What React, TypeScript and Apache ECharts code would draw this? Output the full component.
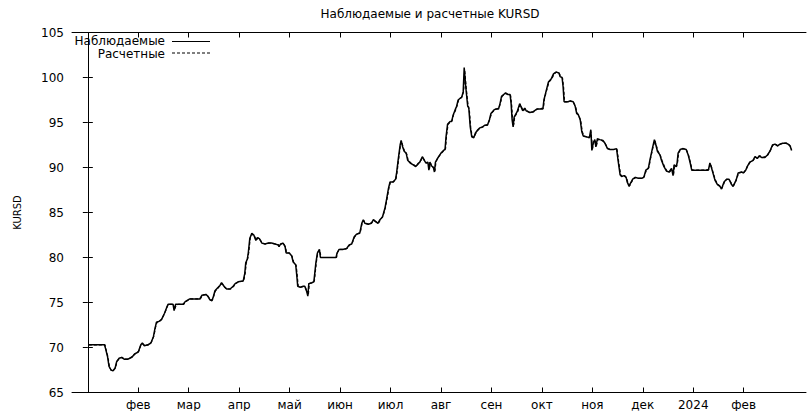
import React, { useEffect, useRef } from "react";
import * as echarts from "echarts";

// x values are months counted from 1 Jan 2023 (1 = February, 12 = January 2024)
const monthLabels = ["янв", "фев", "мар", "апр", "май", "июн", "июл", "авг", "сен", "окт", "ноя", "дек", "2024", "фев"];
const tickMonths = [1, 2, 3, 4, 5, 6, 7, 8, 9, 10, 11, 12, 13];
const yTicks = [65, 105, 5];

const titleText = "Наблюдаемые и расчетные KURSD";
const yName = "KURSD";
const seriesNames = ["Наблюдаемые", "Расчетные"];

const observed: [number, number][] = [
  [0.02, 70.3], [0.33, 70.3], [0.35, 69.9], [0.39, 69.0], [0.42, 67.9], [0.46, 67.5], [0.50, 67.4], [0.54, 67.7], [0.57, 68.4], [0.62, 68.8],
  [0.67, 68.9], [0.72, 68.7], [0.79, 68.7], [0.87, 68.9], [0.93, 69.3], [1.00, 69.5], [1.05, 70.3], [1.08, 70.5], [1.12, 70.2], [1.19, 70.3],
  [1.25, 70.5], [1.30, 71.2], [1.33, 72.1], [1.36, 72.8], [1.41, 72.9], [1.46, 73.1], [1.52, 73.8], [1.56, 74.4], [1.59, 74.8], [1.65, 74.8],
  [1.69, 74.8], [1.71, 74.1], [1.74, 74.8], [1.79, 74.8], [1.89, 74.8], [1.93, 75.1], [2.02, 75.4], [2.22, 75.4], [2.26, 75.8], [2.34, 75.9],
  [2.38, 75.7], [2.42, 75.3], [2.46, 75.2], [2.49, 75.7], [2.52, 76.3], [2.57, 76.6], [2.62, 76.9], [2.65, 77.2], [2.70, 76.8], [2.75, 76.5],
  [2.82, 76.5], [2.88, 76.8], [2.92, 77.1], [2.98, 77.3], [3.08, 77.4], [3.11, 78.2], [3.13, 79.4], [3.16, 79.8], [3.18, 80.5], [3.21, 82.1],
  [3.25, 82.7], [3.29, 82.5], [3.33, 81.9], [3.36, 82.2], [3.40, 82.1], [3.45, 81.6], [3.51, 81.5], [3.58, 81.6], [3.64, 81.6], [3.71, 81.5],
  [3.77, 81.4], [3.79, 81.2], [3.82, 81.5], [3.87, 81.6], [3.91, 81.2], [3.93, 80.5], [3.99, 80.5], [4.04, 80.2], [4.07, 79.5], [4.12, 79.2],
  [4.14, 78.1], [4.16, 76.8], [4.21, 76.7], [4.27, 76.8], [4.30, 76.8], [4.34, 76.2], [4.36, 75.7], [4.38, 77.1], [4.44, 77.2], [4.48, 77.3],
  [4.52, 79.4], [4.55, 80.5], [4.59, 80.9], [4.61, 80.0], [4.73, 80.0], [4.92, 80.0], [4.94, 80.5], [4.98, 80.9], [5.05, 80.9], [5.13, 81.0],
  [5.18, 81.4], [5.23, 81.5], [5.28, 82.3], [5.33, 82.6], [5.39, 82.7], [5.43, 83.8], [5.46, 84.2], [5.49, 83.8], [5.56, 83.7], [5.62, 83.8],
  [5.66, 84.2], [5.75, 83.8], [5.79, 84.2], [5.84, 84.5], [5.89, 85.5], [5.92, 86.4], [5.96, 87.7], [5.99, 88.4], [6.05, 88.4], [6.10, 88.7],
  [6.12, 89.4], [6.15, 90.8], [6.19, 92.5], [6.21, 93.0], [6.24, 92.3], [6.27, 91.8], [6.31, 91.6], [6.34, 90.8], [6.39, 90.5], [6.45, 90.3],
  [6.50, 90.1], [6.54, 90.4], [6.58, 90.6], [6.63, 91.2], [6.67, 90.8], [6.70, 90.5], [6.74, 90.6], [6.76, 89.7], [6.78, 90.6], [6.81, 90.2],
  [6.85, 90.0], [6.87, 89.5], [6.89, 90.6], [6.93, 91.0], [7.00, 91.6], [7.05, 91.9], [7.08, 92.0], [7.10, 93.4], [7.13, 94.8], [7.18, 95.1],
  [7.21, 95.1], [7.24, 95.8], [7.28, 96.4], [7.31, 96.8], [7.34, 97.5], [7.38, 97.7], [7.41, 97.8], [7.44, 98.4], [7.46, 101.1], [7.49, 99.0],
  [7.53, 96.8], [7.55, 96.7], [7.58, 94.5], [7.61, 93.4], [7.65, 93.3], [7.68, 93.8], [7.73, 94.2], [7.77, 94.4], [7.82, 94.5], [7.87, 94.7],
  [7.92, 94.7], [7.96, 95.3], [7.99, 96.0], [8.05, 96.4], [8.09, 96.5], [8.14, 96.5], [8.17, 97.1], [8.20, 97.9], [8.26, 98.2], [8.28, 98.3],
  [8.33, 98.1], [8.37, 98.1], [8.39, 97.1], [8.41, 95.3], [8.43, 94.5], [8.45, 95.6], [8.51, 96.2], [8.56, 97.1], [8.62, 96.3], [8.66, 96.6],
  [8.69, 96.3], [8.76, 96.1], [8.83, 96.2], [8.90, 96.5], [9.02, 96.5], [9.04, 97.5], [9.08, 98.4], [9.13, 99.5], [9.19, 99.9], [9.23, 100.4],
  [9.28, 100.6], [9.34, 100.5], [9.36, 100.1], [9.40, 100.0], [9.42, 99.0], [9.44, 97.3], [9.52, 97.3], [9.56, 97.4], [9.62, 97.3], [9.66, 96.8],
  [9.69, 96.0], [9.72, 95.9], [9.76, 95.3], [9.79, 94.0], [9.82, 93.5], [9.89, 93.4], [9.94, 93.3], [9.97, 94.2], [9.98, 93.1], [9.99, 91.9],
  [10.02, 92.8], [10.05, 93.1], [10.07, 92.3], [10.10, 93.2], [10.15, 93.1], [10.21, 93.0], [10.25, 92.7], [10.30, 92.1], [10.35, 92.0], [10.42, 92.0],
  [10.48, 92.1], [10.51, 90.8], [10.55, 89.2], [10.58, 89.0], [10.63, 89.1], [10.67, 88.9], [10.69, 88.4], [10.73, 87.9], [10.76, 88.3], [10.80, 88.7],
  [10.85, 88.9], [10.91, 88.8], [10.98, 88.8], [11.02, 88.9], [11.06, 89.7], [11.11, 89.9], [11.14, 90.8], [11.19, 92.1], [11.23, 93.1], [11.26, 92.5],
  [11.29, 91.8], [11.34, 91.4], [11.37, 90.8], [11.42, 90.1], [11.47, 89.6], [11.52, 89.5], [11.57, 89.9], [11.60, 89.1], [11.62, 90.3], [11.66, 90.1],
  [11.68, 90.5], [11.70, 91.6], [11.74, 92.0], [11.79, 92.1], [11.86, 92.0], [11.90, 91.4], [11.94, 90.5], [11.97, 89.7], [12.07, 89.7], [12.20, 89.7],
  [12.30, 89.7], [12.33, 90.5], [12.35, 90.2], [12.39, 89.4], [12.43, 88.6], [12.48, 88.1], [12.53, 87.9], [12.56, 87.6], [12.61, 88.4], [12.66, 88.7],
  [12.71, 88.7], [12.76, 88.1], [12.79, 87.9], [12.85, 88.6], [12.89, 89.4], [12.96, 89.5], [12.99, 89.4], [13.04, 89.7], [13.07, 90.1], [13.12, 90.6],
  [13.19, 90.8], [13.22, 91.2], [13.27, 91.0], [13.31, 91.3], [13.36, 91.1], [13.42, 91.1], [13.47, 91.4], [13.52, 91.8], [13.57, 92.5], [13.62, 92.6],
  [13.67, 92.4], [13.72, 92.6], [13.77, 92.7], [13.84, 92.7], [13.88, 92.6], [13.92, 92.4], [13.95, 91.9],
];

const calculated: [number, number][] = [
  [0.02, 70.3], [0.34, 70.3], [0.36, 69.8], [0.40, 68.9], [0.43, 67.8], [0.47, 67.4], [0.51, 67.5], [0.55, 67.8], [0.58, 68.5], [0.63, 68.8],
  [0.68, 68.9], [0.73, 68.7], [0.80, 68.7], [0.88, 69.0], [0.94, 69.3], [1.01, 69.6], [1.06, 70.4], [1.09, 70.4], [1.13, 70.2], [1.20, 70.3],
  [1.26, 70.6], [1.31, 71.3], [1.34, 72.2], [1.37, 72.8], [1.42, 72.9], [1.47, 73.2], [1.53, 73.9], [1.57, 74.5], [1.60, 74.8], [1.66, 74.8],
  [1.70, 74.7], [1.72, 74.2], [1.75, 74.7], [1.80, 74.8], [1.90, 74.8], [1.94, 75.1], [2.03, 75.4], [2.23, 75.4], [2.27, 75.8], [2.35, 75.9],
  [2.39, 75.6], [2.43, 75.3], [2.47, 75.3], [2.50, 75.8], [2.53, 76.3], [2.58, 76.6], [2.63, 77.0], [2.66, 77.1], [2.71, 76.7], [2.76, 76.5],
  [2.83, 76.5], [2.89, 76.8], [2.93, 77.1], [2.99, 77.3], [3.09, 77.4], [3.12, 78.3], [3.14, 79.4], [3.17, 79.9], [3.19, 80.6], [3.22, 82.2],
  [3.26, 82.6], [3.30, 82.4], [3.34, 81.9], [3.37, 82.2], [3.41, 82.0], [3.46, 81.6], [3.52, 81.5], [3.59, 81.6], [3.65, 81.6], [3.72, 81.5],
  [3.78, 81.4], [3.80, 81.2], [3.83, 81.5], [3.88, 81.6], [3.92, 81.1], [3.94, 80.5], [4.00, 80.5], [4.05, 80.1], [4.08, 79.5], [4.13, 79.1],
  [4.15, 78.0], [4.17, 76.8], [4.22, 76.7], [4.28, 76.8], [4.31, 76.7], [4.35, 76.1], [4.37, 75.8], [4.39, 77.1], [4.45, 77.2], [4.49, 77.4],
  [4.53, 79.5], [4.56, 80.6], [4.60, 80.8], [4.62, 80.0], [4.74, 80.0], [4.93, 80.0], [4.95, 80.6], [4.99, 80.9], [5.06, 80.9], [5.14, 81.0],
  [5.19, 81.4], [5.24, 81.6], [5.29, 82.3], [5.34, 82.6], [5.40, 82.8], [5.44, 83.9], [5.47, 84.1], [5.50, 83.8], [5.57, 83.7], [5.63, 83.9],
  [5.67, 84.1], [5.76, 83.8], [5.80, 84.2], [5.85, 84.6], [5.90, 85.6], [5.93, 86.5], [5.97, 87.8], [6.00, 88.4], [6.06, 88.4], [6.11, 88.8],
  [6.13, 89.5], [6.16, 90.9], [6.20, 92.6], [6.22, 92.9], [6.25, 92.2], [6.28, 91.8], [6.32, 91.5], [6.35, 90.8], [6.40, 90.5], [6.46, 90.3],
  [6.51, 90.1], [6.55, 90.4], [6.59, 90.7], [6.64, 91.1], [6.68, 90.7], [6.71, 90.5], [6.75, 90.5], [6.77, 89.8], [6.79, 90.5], [6.82, 90.2],
  [6.86, 89.9], [6.88, 89.6], [6.90, 90.6], [6.94, 91.1], [7.01, 91.6], [7.06, 91.9], [7.09, 92.1], [7.11, 93.5], [7.14, 94.8], [7.19, 95.1],
  [7.22, 95.2], [7.25, 95.9], [7.29, 96.4], [7.32, 96.9], [7.35, 97.5], [7.39, 97.7], [7.42, 97.9], [7.45, 98.5], [7.47, 100.8], [7.50, 98.8],
  [7.54, 96.7], [7.56, 96.5], [7.59, 94.4], [7.62, 93.4], [7.66, 93.4], [7.69, 93.8], [7.74, 94.2], [7.78, 94.4], [7.83, 94.5], [7.88, 94.7],
  [7.93, 94.8], [7.97, 95.4], [8.00, 96.0], [8.06, 96.4], [8.10, 96.5], [8.15, 96.6], [8.18, 97.2], [8.21, 97.9], [8.27, 98.2], [8.29, 98.2],
  [8.34, 98.1], [8.38, 98.0], [8.40, 97.0], [8.42, 95.3], [8.44, 94.7], [8.46, 95.6], [8.52, 96.2], [8.57, 97.0], [8.63, 96.3], [8.67, 96.5],
  [8.70, 96.3], [8.77, 96.1], [8.84, 96.2], [8.91, 96.5], [9.03, 96.6], [9.05, 97.6], [9.09, 98.5], [9.14, 99.5], [9.20, 99.9], [9.24, 100.4],
  [9.29, 100.6], [9.35, 100.4], [9.37, 100.1], [9.41, 99.9], [9.43, 98.9], [9.45, 97.3], [9.53, 97.3], [9.57, 97.4], [9.63, 97.2], [9.67, 96.7],
  [9.70, 96.0], [9.73, 95.8], [9.77, 95.2], [9.80, 94.0], [9.83, 93.5], [9.90, 93.4], [9.95, 93.4], [9.97, 94.0], [9.99, 93.0], [10.00, 92.0],
  [10.03, 92.8], [10.06, 93.0], [10.08, 92.4], [10.11, 93.1], [10.16, 93.1], [10.22, 92.9], [10.26, 92.6], [10.31, 92.1], [10.36, 92.0], [10.43, 92.0],
  [10.49, 92.0], [10.52, 90.7], [10.56, 89.2], [10.59, 89.0], [10.64, 89.1], [10.68, 88.8], [10.70, 88.4], [10.74, 88.0], [10.77, 88.3], [10.81, 88.7],
  [10.86, 88.9], [10.92, 88.8], [10.99, 88.8], [11.03, 89.0], [11.07, 89.7], [11.12, 90.0], [11.15, 90.9], [11.20, 92.2], [11.24, 93.0], [11.27, 92.4],
  [11.30, 91.8], [11.35, 91.3], [11.38, 90.8], [11.43, 90.1], [11.48, 89.6], [11.53, 89.5], [11.58, 89.8], [11.61, 89.2], [11.63, 90.2], [11.67, 90.1],
  [11.69, 90.6], [11.71, 91.6], [11.75, 92.0], [11.80, 92.1], [11.87, 91.9], [11.91, 91.3], [11.95, 90.4], [11.98, 89.7], [12.08, 89.7], [12.21, 89.7],
  [12.31, 89.8], [12.34, 90.4], [12.36, 90.1], [12.40, 89.3], [12.44, 88.6], [12.49, 88.1], [12.54, 87.9], [12.57, 87.7], [12.62, 88.4], [12.67, 88.7],
  [12.72, 88.6], [12.77, 88.1], [12.80, 88.0], [12.86, 88.7], [12.90, 89.4], [12.97, 89.5], [13.00, 89.4], [13.05, 89.8], [13.08, 90.2], [13.13, 90.6],
  [13.20, 90.9], [13.23, 91.2], [13.28, 91.0], [13.32, 91.3], [13.37, 91.1], [13.43, 91.2], [13.48, 91.4], [13.53, 91.9], [13.58, 92.5], [13.63, 92.6],
  [13.68, 92.4], [13.73, 92.6], [13.78, 92.7], [13.85, 92.7], [13.89, 92.6], [13.93, 92.3], [13.95, 92.0],
];

const X_MIN = -0.314;
const X_MAX = 14.235;
const FONT = "'DejaVu Sans', sans-serif";

export default function App() {
  const ref = useRef<HTMLDivElement>(null);

  useEffect(() => {
    if (!ref.current) return;
    const chart = echarts.init(ref.current, null, { renderer: "svg" });
    const tickStyle = { inside: true, length: 5, lineStyle: { color: "#000", width: 1 } };
    const axisLine = { show: true, lineStyle: { color: "#000", width: 1 } };
    const fmt = (v: number) => monthLabels[Math.round(v)] ?? "";

    chart.setOption({
      animation: false,
      backgroundColor: "#fff",
      textStyle: { fontFamily: FONT },
      grid: { left: 72, right: 1, top: 32.5, bottom: 18.5, containLabel: false },
      xAxis: [
        {
          type: "value",
          position: "bottom",
          min: X_MIN,
          max: X_MAX,
          axisLine,
          axisTick: { ...tickStyle, customValues: tickMonths },
          axisLabel: { customValues: tickMonths, formatter: fmt, color: "#000", fontSize: 12, fontFamily: FONT, margin: 6 },
          splitLine: { show: false },
        },
        {
          type: "value",
          position: "top",
          min: X_MIN,
          max: X_MAX,
          axisLine,
          axisTick: { ...tickStyle, customValues: tickMonths },
          axisLabel: { show: false },
          splitLine: { show: false },
        },
      ],
      yAxis: [
        {
          type: "value",
          position: "left",
          min: yTicks[0],
          max: yTicks[1],
          interval: yTicks[2],
          axisLine,
          axisTick: tickStyle,
          axisLabel: { color: "#000", fontSize: 12, fontFamily: FONT, margin: 8 },
          splitLine: { show: false },
          name: yName,
          nameLocation: "middle",
          nameRotate: 90,
          nameGap: 50,
          nameTextStyle: { color: "#000", fontSize: 10, fontFamily: FONT },
        },
        {
          type: "value",
          position: "right",
          min: yTicks[0],
          max: yTicks[1],
          interval: yTicks[2],
          axisLine,
          axisTick: tickStyle,
          axisLabel: { show: false },
          splitLine: { show: false },
        },
      ],
      series: [
        {
          name: seriesNames[0],
          type: "line",
          data: observed,
          showSymbol: false,
          lineStyle: { color: "#000", width: 1.5, type: "solid" },
          z: 2,
        },
        {
          name: seriesNames[1],
          type: "line",
          data: calculated,
          showSymbol: false,
          lineStyle: { color: "#000", width: 1.2, type: [3, 2] },
          z: 3,
        },
      ],
      graphic: [
        {
          type: "text",
          x: 430,
          y: 14,
          style: { text: titleText, fill: "#000", font: `12px ${FONT}`, textAlign: "center", textVerticalAlign: "middle" },
        },
        {
          type: "text",
          x: 165,
          y: 41,
          style: { text: seriesNames[0], fill: "#000", font: `12px ${FONT}`, textAlign: "right", textVerticalAlign: "middle" },
        },
        {
          type: "line",
          shape: { x1: 172, y1: 41.5, x2: 210, y2: 41.5 },
          style: { stroke: "#000", lineWidth: 1.2 },
        },
        {
          type: "text",
          x: 165,
          y: 54,
          style: { text: seriesNames[1], fill: "#000", font: `12px ${FONT}`, textAlign: "right", textVerticalAlign: "middle" },
        },
        {
          type: "line",
          shape: { x1: 172, y1: 53, x2: 210, y2: 53 },
          style: { stroke: "#000", lineWidth: 1.2, lineDash: [3, 2] },
        },
      ],
    });

    return () => chart.dispose();
  }, []);

  return <div ref={ref} style={{ position: "fixed", left: 0, top: 0, width: 807, height: 411 }} />;
}
